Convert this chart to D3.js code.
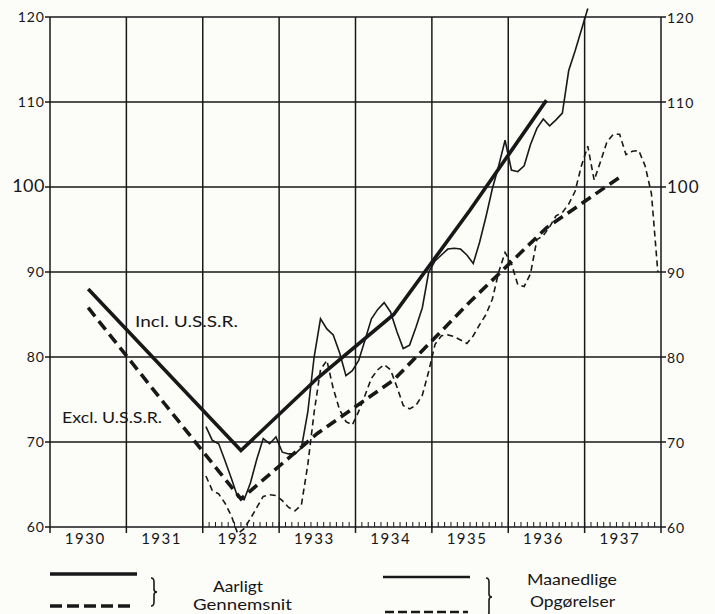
<!DOCTYPE html>
<html><head><meta charset="utf-8">
<script src="https://cdn.jsdelivr.net/npm/d3@7"></script>
<style>
body{margin:0;background:#fcfcf9}
svg{display:block}
text{font-family:Lato,"DejaVu Sans",sans-serif;fill:#161616}
</style>
</head><body>
<svg id="c" width="715" height="614"></svg>
<script>
// ---- data ----
const years = [1930,1931,1932,1933,1934,1935,1936,1937];
const yearLabels = ["1930","1931","1932","1933","1934","1935","1936","1937"];
const yTicks = [60,70,80,90,100,110,120];
const yTickLabels = ["60","70","80","90","100","110","120"];

// annual averages (plotted mid-year)
const inclAnnualYears = [1930,1931,1932,1933,1934,1935,1936];
const inclAnnual = [88,78.5,69,77.5,85,97.3,110.2];
const exclAnnualYears = [1930,1931,1932,1933,1934,1935,1936,1937];
const exclAnnual = [85.8,74.5,63.3,71,77.3,86.5,95.2,101.4];

// monthly figures, starting January 1932
const monthlyStart = 1932;
const inclMonthly = [
  71.8,70.2,69.8,67.8,65.7,63.5,63.2,65.2,68,70.4,69.8,70.6,       // 1932
  68.8,68.6,68.6,69.3,73.5,80,84.5,83.3,82.6,80.5,77.8,78.4,       // 1933
  79.6,82,84.5,85.6,86.4,85.3,83,81,81.4,83.5,85.8,90,             // 1934
  91.3,92,92.7,92.8,92.7,92,91,93.5,96.5,99.8,102.5,105.5,         // 1935
  102,101.8,102.5,105,106.9,108,107.2,107.9,108.7,113.7,116,118.5, // 1936
  121                                                               // 1937 Jan
];
const exclMonthly = [
  66,64.3,63.9,62.8,61.3,59.2,59.8,61,62.3,63.6,63.8,63.7,         // 1932
  63.1,62.3,61.9,62.6,67.3,73.5,78.5,79.6,76.3,73.8,72.4,72,       // 1933
  73.6,75.5,77.5,78.5,79.1,78.5,76.5,74.3,73.9,74.3,75.5,78.3,     // 1934
  81.5,82.5,82.6,82.4,82,81.6,82.5,83.8,85,86.8,90,92.3,           // 1935
  91,88.5,88.3,89.8,93.8,94.3,95.3,96.6,97,98,99.5,102.5,          // 1936
  104.8,100.8,103,105.3,106.2,106.2,103.8,104.2,104.3,102.5,99.2,90 // 1937
];

// ---- layout ----
const svg = d3.select("#c");
const x = d3.scaleLinear().domain([1930,1938]).range([50,661]);
const y = d3.scaleLinear().domain([60,120]).range([527,17]);
const ink = "#181818";

// horizontal grid with stubs
const g = svg.append("g");
yTicks.forEach(v=>{
  g.append("line").attr("x1",x(1930)-5).attr("x2",x(1938)+5)
   .attr("y1",y(v)).attr("y2",y(v)).attr("stroke",ink).attr("stroke-width",1.5);
});
// vertical year lines
d3.range(1930,1939).forEach(yr=>{
  g.append("line").attr("x1",x(yr)).attr("x2",x(yr))
   .attr("y1",y(120)).attr("y2",y(60)+6).attr("stroke",ink).attr("stroke-width",1.5);
});
// monthly ticks from 1932
d3.range(0,72).forEach(k=>{
  const xv = x(1932+k/12);
  g.append("line").attr("x1",xv).attr("x2",xv).attr("y1",y(60)).attr("y2",y(60)-5)
   .attr("stroke",ink).attr("stroke-width",1);
});

// y labels
yTicks.forEach((v,i)=>{
  svg.append("text").attr("x",45).attr("y",y(v)+5).attr("text-anchor","end")
    .attr("font-size",v===100?18:14).attr("letter-spacing",v===100?0.5:1).text(yTickLabels[i]);
  svg.append("text").attr("x",667).attr("y",y(v)+6).attr("text-anchor","start")
    .attr("font-size",v===100?17:14).attr("letter-spacing",1).text(yTickLabels[i]);
});
// year labels
years.forEach((yr,i)=>{
  svg.append("text").attr("x",x(yr+0.5)-3).attr("y",544).attr("text-anchor","middle")
    .attr("font-size",15).attr("letter-spacing",1.5).text(yearLabels[i]);
});

// ---- series ----
const line = d3.line().x(d=>x(d[0])).y(d=>y(d[1]));
const inclA = inclAnnualYears.map((yr,i)=>[yr+0.5,inclAnnual[i]]);
const exclA = exclAnnualYears.map((yr,i)=>[yr+0.5,exclAnnual[i]]);
const inclM = inclMonthly.map((v,i)=>[monthlyStart+(i+0.5)/12,v]);
const exclM = exclMonthly.map((v,i)=>[monthlyStart+(i+0.5)/12,v]);

svg.append("path").attr("d",line(exclM)).attr("fill","none").attr("stroke",ink)
  .attr("stroke-width",1.6).attr("stroke-dasharray","6,4");
svg.append("path").attr("d",line(inclM)).attr("fill","none").attr("stroke",ink)
  .attr("stroke-width",1.6);
svg.append("path").attr("d",line(exclA)).attr("fill","none").attr("stroke",ink)
  .attr("stroke-width",3.6).attr("stroke-dasharray","11,6");
svg.append("path").attr("d",line(inclA)).attr("fill","none").attr("stroke",ink)
  .attr("stroke-width",3.6);

// annotations
svg.append("text").attr("x",135).attr("y",327).attr("font-size",15)
  .attr("textLength",103).attr("lengthAdjust","spacingAndGlyphs").text("Incl. U.S.S.R.");
svg.append("text").attr("x",62).attr("y",423).attr("font-size",15)
  .attr("textLength",100).attr("lengthAdjust","spacingAndGlyphs").text("Excl. U.S.S.R.");

// ---- legend ----
const lg = svg.append("g");
lg.append("line").attr("x1",50).attr("x2",137).attr("y1",574).attr("y2",574)
  .attr("stroke",ink).attr("stroke-width",3.6);
lg.append("line").attr("x1",50).attr("x2",132).attr("y1",606).attr("y2",606)
  .attr("stroke",ink).attr("stroke-width",3.6).attr("stroke-dasharray","12,5");
lg.append("line").attr("x1",383).attr("x2",470).attr("y1",577).attr("y2",577)
  .attr("stroke",ink).attr("stroke-width",2.6);
lg.append("line").attr("x1",385).attr("x2",468).attr("y1",612).attr("y2",612)
  .attr("stroke",ink).attr("stroke-width",2.6).attr("stroke-dasharray","9,4");
function brace(bx,top,bot){
  const m=(top+bot)/2;
  return `M${bx},${top} q3,0 3,4 L${bx+3},${m-3} q0,3 3,3 q-3,0 -3,3 L${bx+3},${bot-4} q0,4 -3,4`;
}
lg.append("path").attr("d",brace(151,578,606)).attr("fill","none").attr("stroke",ink).attr("stroke-width",1.6);
lg.append("path").attr("d",brace(486,578,616)).attr("fill","none").attr("stroke",ink).attr("stroke-width",1.6);
const legText = (tx,ty,len,s)=>lg.append("text").attr("x",tx).attr("y",ty).attr("font-size",15)
  .attr("textLength",len).attr("lengthAdjust","spacingAndGlyphs").text(s);
legText(213,592,50,"Aarligt");
legText(193,610,99,"Gennemsnit");
legText(527,585,90,"Maanedlige");
legText(530,607,85,"Opgørelser");
</script>
</body></html>
